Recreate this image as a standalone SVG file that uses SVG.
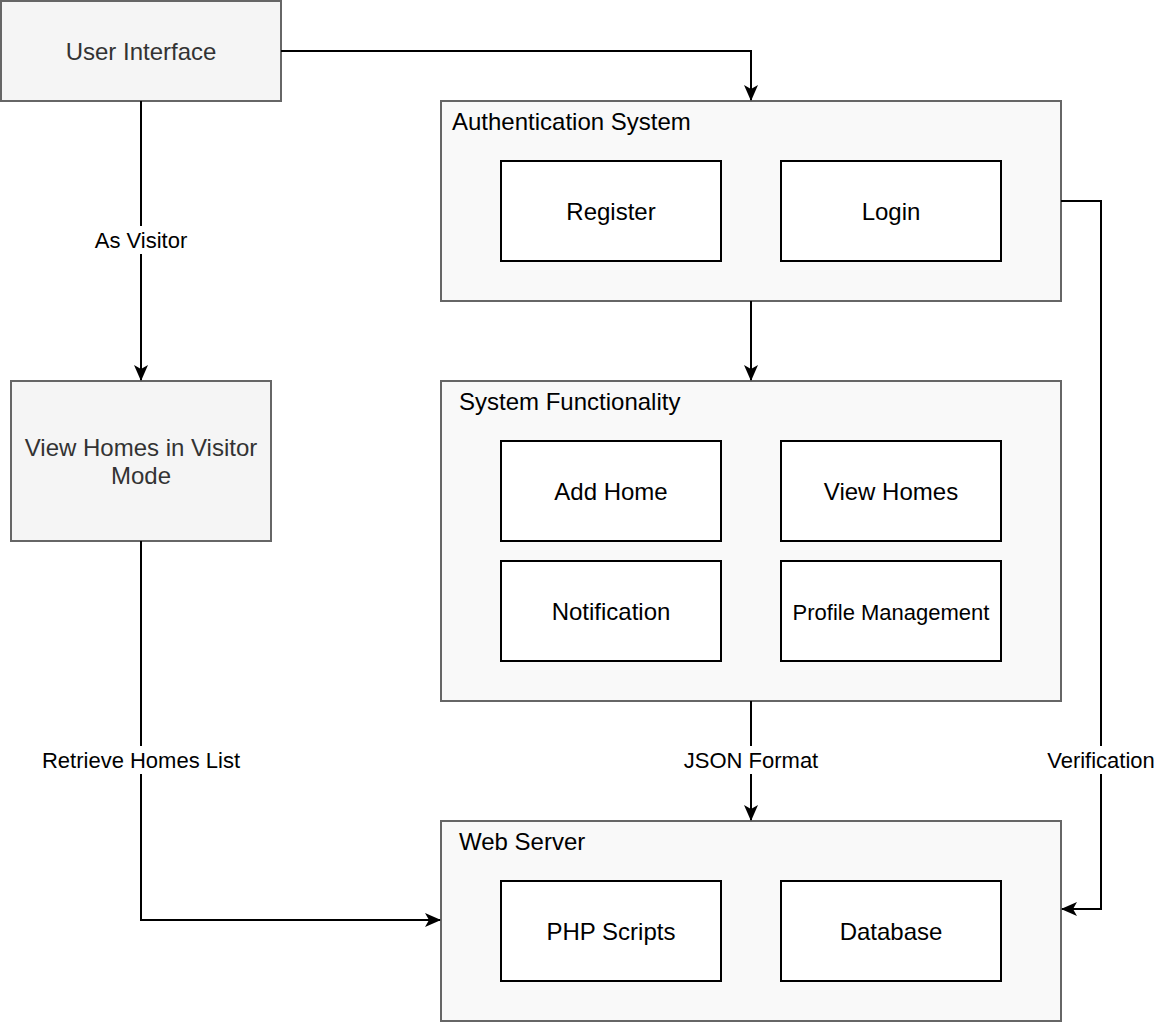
<svg xmlns="http://www.w3.org/2000/svg" width="1154" height="1022" viewBox="0 0 1154 1022">
<defs>
<marker id="arr" viewBox="0 0 16 14" refX="15" refY="7" markerWidth="16" markerHeight="14" markerUnits="userSpaceOnUse" orient="auto">
<path d="M0,0 L16,7 L0,14 L4,7 Z" fill="#000"/>
</marker>
</defs>
<style>
text{font-family:"Liberation Sans",Arial,sans-serif;}
.grey{fill:#f5f5f5;stroke:#666;stroke-width:2;}
.cont{fill:#f9f9f9;stroke:#666;stroke-width:2;}
.inner{fill:#fff;stroke:#000;stroke-width:2;}
.t20{font-size:24px;fill:#000;text-anchor:middle;}
.tg{font-size:24px;fill:#333;text-anchor:middle;}
.title{font-size:24px;fill:#000;}
.lbl{font-size:22px;fill:#000;text-anchor:middle;}
.edge{fill:none;stroke:#000;stroke-width:2;}
</style>
<rect width="1154" height="1022" fill="#fff"/>
<g id="ui"><rect class="grey" x="1" y="1" width="280" height="100"/><text class="tg" x="141" y="60">User Interface</text></g>
<g id="visitor"><rect class="grey" x="11" y="381" width="260" height="160"/><text class="tg" x="141" y="456">View Homes in Visitor</text><text class="tg" x="141" y="484">Mode</text></g>
<g id="auth"><rect class="cont" x="441" y="101" width="620" height="200"/><text class="title" x="452" y="130">Authentication System</text></g>
<g id="register"><rect class="inner" x="501" y="161" width="220" height="100"/><text class="t20" x="611" y="220">Register</text></g>
<g id="login"><rect class="inner" x="781" y="161" width="220" height="100"/><text class="t20" x="891" y="220">Login</text></g>
<g id="sysfunc"><rect class="cont" x="441" y="381" width="620" height="320"/><text class="title" x="459" y="410">System Functionality</text></g>
<g id="addhome"><rect class="inner" x="501" y="441" width="220" height="100"/><text class="t20" x="611" y="500">Add Home</text></g>
<g id="viewhomes"><rect class="inner" x="781" y="441" width="220" height="100"/><text class="t20" x="891" y="500">View Homes</text></g>
<g id="notification"><rect class="inner" x="501" y="561" width="220" height="100"/><text class="t20" x="611" y="620">Notification</text></g>
<g id="profile"><rect class="inner" x="781" y="561" width="220" height="100"/><text class="t20" x="891" y="620" style="font-size:22px">Profile Management</text></g>
<g id="webserver"><rect class="cont" x="441" y="821" width="620" height="200"/><text class="title" x="459" y="850">Web Server</text></g>
<g id="php"><rect class="inner" x="501" y="881" width="220" height="100"/><text class="t20" x="611" y="940">PHP Scripts</text></g>
<g id="database"><rect class="inner" x="781" y="881" width="220" height="100"/><text class="t20" x="891" y="940">Database</text></g>
<g id="connectors">
<path class="edge" d="M281,51 H751 V100" marker-end="url(#arr)"/>
<path class="edge" d="M141,101 V380" marker-end="url(#arr)"/>
<path class="edge" d="M751,301 V380" marker-end="url(#arr)"/>
<path class="edge" d="M751,701 V820" marker-end="url(#arr)"/>
<path class="edge" d="M141,541 V920 H440" marker-end="url(#arr)"/>
<path class="edge" d="M1061,201 H1101 V909 H1062" marker-end="url(#arr)"/>
<rect x="88" y="226" width="106" height="28" fill="#fff"/>
<text class="lbl" x="141" y="248">As Visitor</text>
<rect x="36" y="746" width="210" height="28" fill="#fff"/>
<text class="lbl" x="141" y="768">Retrieve Homes List</text>
<rect x="678" y="746" width="146" height="28" fill="#fff"/>
<text class="lbl" x="751" y="768">JSON Format</text>
<rect x="1044" y="746" width="110" height="28" fill="#fff"/>
<text class="lbl" x="1101" y="768">Verification</text>
</g>
</svg>
